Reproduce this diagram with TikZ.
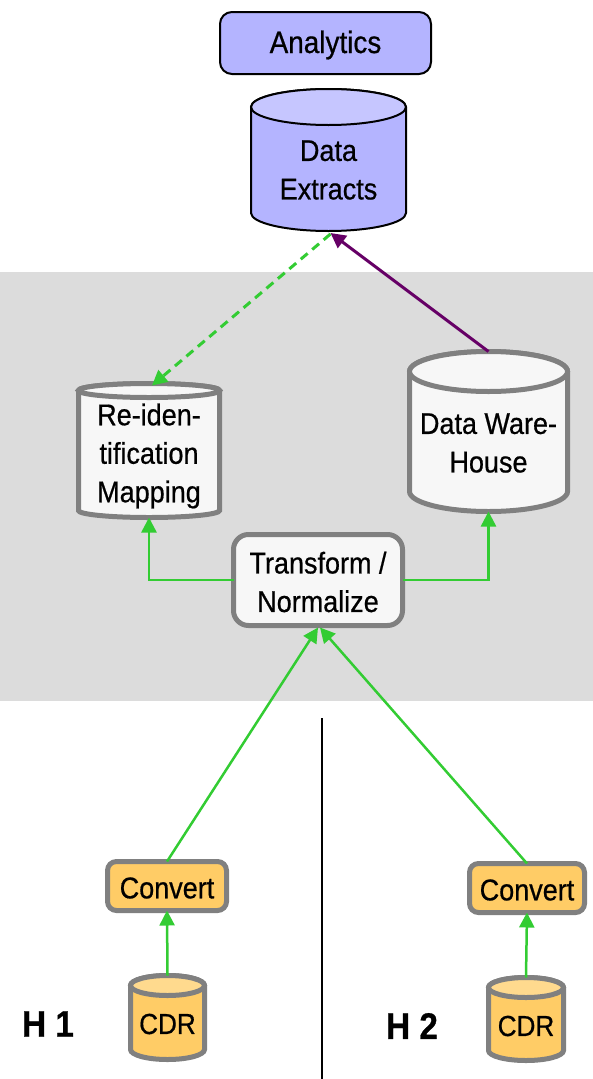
\documentclass[tikz,border=0pt]{standalone}
\usepackage{fontspec}
\setmainfont{Liberation Sans}[FakeStretch=0.9,FakeBold=0.6]
\usetikzlibrary{arrows.meta,calc}
\definecolor{lav}{RGB}{180,180,255}
\definecolor{lavtop}{RGB}{198,198,255}
\definecolor{bordergray}{RGB}{128,128,128}
\definecolor{paper}{RGB}{247,247,247}
\definecolor{orng}{RGB}{255,204,102}
\definecolor{orngtop}{RGB}{255,218,142}
\definecolor{grn}{RGB}{51,204,51}
\definecolor{purp}{RGB}{102,0,102}
\definecolor{band}{RGB}{220,220,220}
\newcommand\cylshape[7]{%
  \pgfmathsetmacro\cylcx{(#1+#2)/2}%
  \pgfmathsetmacro\cylrx{(#2-#1)/2}%
  \path[#6] (#1,#3+#5) -- (#1,#4-#5)
     arc[start angle=180,end angle=360,x radius=\cylrx pt,y radius=#5pt]
     -- (#2,#3+#5)
     arc[start angle=0,end angle=180,x radius=\cylrx pt,y radius=#5pt] -- cycle;
  \path[#6,fill=#7] (\cylcx,#3+#5) ellipse[x radius=\cylrx pt,y radius=#5pt];
}
\tikzset{
  txt/.style={align=center,inner sep=0pt,font=\fontsize{30}{38.5}\selectfont},
  shapebox/.style={inner sep=0pt,outer sep=0pt},
  lavline/.style={draw=black,line width=2pt,fill=lav},
  grayline/.style={draw=bordergray,line width=5pt,fill=paper},
  orline/.style={draw=bordergray,line width=5pt,fill=orng},
  greenarrow/.style={draw=grn,line width=2.5pt,-{Triangle[length=15pt,width=15pt]}},
  purparrow/.style={draw=purp,line width=3pt,-{Triangle[length=15pt,width=15pt]}},
  hlabel/.style={font=\fontsize{37}{42}\selectfont\bfseries,inner sep=0pt},
}
\begin{document}
\begin{tikzpicture}[x=1pt,y=-1pt]
\useasboundingbox (0,0) rectangle (593,1079);
% background band
\fill[band] (0,272) rectangle (593,701);
% divider line
\coordinate (divtop) at (322,718);
\coordinate (divbot) at (322,1079);
\draw[black,line width=1.5pt] (divtop) -- (divbot);

% Analytics
\node[lavline,rounded corners=12pt,minimum width=211pt,minimum height=62pt,shapebox] (an) at (325.5,43) {};
\node[txt,font=\fontsize{31}{38}\selectfont] (antext) at (325.5,45) {Analytics};

% Data Extracts cylinder
\cylshape{251}{406}{89}{231}{18}{lavline}{lavtop}
\node[shapebox,minimum width=155pt,minimum height=142pt] (de) at (328.5,160) {};
\node[txt] (detext) at (328.5,170) {Data\\Extracts};

% Re-identification Mapping cylinder
\cylshape{78.5}{219.5}{383.5}{517.5}{7}{grayline}{paper}
\node[shapebox,minimum width=141pt,minimum height=134pt] (rim) at (149,450.5) {};
\node[txt] (rimtext) at (149,456) {Re-iden-\\tification\\Mapping};

% Data Warehouse cylinder
\cylshape{409.5}{567.5}{351.5}{511.5}{20}{grayline}{paper}
\node[shapebox,minimum width=158pt,minimum height=160pt] (dw) at (488.5,431.5) {};
\node[txt] (dwtext) at (488.5,443) {Data Ware-\\House};

% Transform / Normalize
\node[grayline,rounded corners=15pt,minimum width=169pt,minimum height=91pt,shapebox] (tn) at (318,580) {};
\node[txt] (tntext) at (318,582) {Transform /\\Normalize};

% Convert boxes
\node[orline,rounded corners=9pt,minimum width=119pt,minimum height=49pt,shapebox] (c1) at (167,886) {};
\node[txt] (c1text) at (167,888) {Convert};
\node[orline,rounded corners=9pt,minimum width=115pt,minimum height=49pt,shapebox] (c2) at (527,888) {};
\node[txt] (c2text) at (527,890) {Convert};

% CDR cylinders
\cylshape{130.5}{204.5}{975.5}{1059.5}{10}{orline}{orngtop}
\node[shapebox,minimum width=74pt,minimum height=84pt] (cdr1) at (167.5,1017.5) {};
\node[txt,font=\fontsize{29}{30}\selectfont] (cdr1text) at (167.5,1024) {CDR};
\cylshape{488.5}{563.5}{977.5}{1060.5}{10}{orline}{orngtop}
\node[shapebox,minimum width=75pt,minimum height=83pt] (cdr2) at (526,1019) {};
\node[txt,font=\fontsize{29}{30}\selectfont] (cdr2text) at (526,1026) {CDR};

% Host labels
\node[hlabel] (h1) at (48,1024) {H 1};
\node[hlabel] (h2) at (412,1026) {H 2};

% connectors
\draw[purparrow] (dw.north) -- ($(de.south)+(2,2)$);
\draw[greenarrow,dash pattern=on 9pt off 6pt,line width=3pt] ($(de.south)+(2,3)$) -- ($(rim.north)+(3,2)$);
\draw[greenarrow] (tn.west) -| (rim.south);
\draw[greenarrow] (tn.east) -| (dw.south);
\draw[greenarrow] (c1.north) -- ($(tn.south)+(0,2)$);
\draw[greenarrow] (c2.north) -- ($(tn.south)+(2,2)$);
\draw[greenarrow] (cdr1.north) -- (c1.south);
\draw[greenarrow] (cdr2.north) -- (c2.south);
\end{tikzpicture}
\end{document}
